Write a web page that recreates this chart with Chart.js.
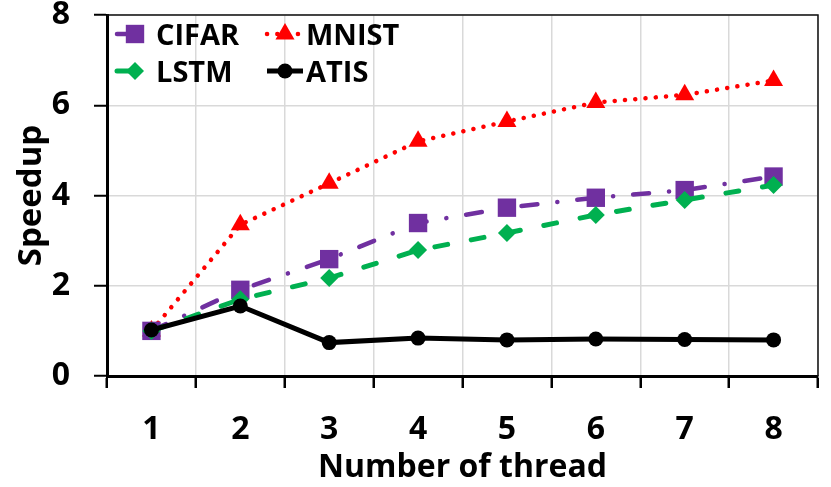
<!DOCTYPE html>
<html lang="en">
  <head>
    <meta charset="UTF-8" />
    <title>Speedup vs threads</title>
    <script src="https://cdn.jsdelivr.net/npm/chart.js"></script>
    <style>
      body {
        margin: 0;
        background: #fff;
      }
    </style>
  </head>
  <body>
    <canvas id="speedupChart" width="831" height="487"></canvas>

    <script>
      const threads = ["1", "2", "3", "4", "5", "6", "7", "8"];
      const cifar = [1.0, 1.91, 2.59, 3.39, 3.73, 3.95, 4.12, 4.42];
      const mnist = [1.0, 3.35, 4.27, 5.2, 5.64, 6.06, 6.23, 6.55];
      const lstm = [1.0, 1.7, 2.17, 2.79, 3.17, 3.57, 3.9, 4.23];
      const atis = [1.02, 1.55, 0.74, 0.84, 0.8, 0.82, 0.81, 0.8];
      const yTicks = [0, 2, 4, 6, 8];

      const FONT = "'Open Sans', 'Liberation Sans', sans-serif";

      // legend drawn inside the plot, two columns like the original
      const legendItems = [
        { name: "CIFAR", ds: 0, col: 0, row: 0 },
        { name: "MNIST", ds: 1, col: 1, row: 0 },
        { name: "LSTM", ds: 2, col: 0, row: 1 },
        { name: "ATIS", ds: 3, col: 1, row: 1 },
      ];

      function marker(ctx, style, r, x, y, color) {
        ctx.save();
        ctx.fillStyle = color;
        ctx.beginPath();
        if (style === "rect") {
          const s = Math.SQRT1_2 * r;
          ctx.rect(x - s, y - s, 2 * s, 2 * s);
        } else if (style === "triangle") {
          for (let i = 0; i < 3; i++) {
            const a = (i * 2 * Math.PI) / 3;
            ctx.lineTo(x + Math.sin(a) * r, y - Math.cos(a) * r);
          }
          ctx.closePath();
        } else if (style === "rectRot") {
          ctx.moveTo(x - r, y);
          ctx.lineTo(x, y - r);
          ctx.lineTo(x + r, y);
          ctx.lineTo(x, y + r);
          ctx.closePath();
        } else {
          ctx.arc(x, y, r, 0, Math.PI * 2);
        }
        ctx.fill();
        ctx.restore();
      }

      const insideLegend = {
        id: "insideLegend",
        afterDraw(chart) {
          const ctx = chart.ctx;
          const colX = [135, 285];
          const rowY = [34, 71];
          legendItems.forEach((it) => {
            const d = chart.data.datasets[it.ds];
            const cx = colX[it.col];
            const cy = rowY[it.row];
            ctx.save();
            ctx.strokeStyle = d.borderColor;
            ctx.lineWidth = d.borderWidth;
            ctx.lineCap = d.borderCapStyle || "butt";
            ctx.setLineDash(d.borderDash || []);
            ctx.beginPath();
            ctx.moveTo(cx - 18, cy);
            ctx.lineTo(cx + 18, cy);
            ctx.stroke();
            ctx.restore();
            marker(ctx, d.pointStyle, d.pointRadius, cx, cy, d.borderColor);
            ctx.save();
            ctx.fillStyle = "#000";
            ctx.font = "bold 29px " + FONT;
            ctx.textBaseline = "middle";
            ctx.fillText(it.name, cx + 21, cy + 3);
            ctx.restore();
          });
        },
      };

      // dark frame on the top and right of the plot area
      const plotFrame = {
        id: "plotFrame",
        beforeDatasetsDraw(chart) {
          const { ctx, chartArea: a } = chart;
          ctx.save();
          ctx.strokeStyle = "#111";
          ctx.lineWidth = 1.5;
          ctx.beginPath();
          ctx.moveTo(a.left, a.top);
          ctx.lineTo(a.right, a.top);
          ctx.lineTo(a.right, a.bottom);
          ctx.stroke();
          ctx.restore();
        },
      };

      const ctx = document.getElementById("speedupChart").getContext("2d");

      new Chart(ctx, {
        type: "line",
        data: {
          labels: threads,
          datasets: [
            {
              label: "CIFAR",
              data: cifar,
              borderColor: "#7030A0",
              backgroundColor: "#7030A0",
              borderWidth: 4.5,
              borderDash: [16, 20, 0.1, 20],
              borderCapStyle: "round",
              pointStyle: "rect",
              pointRadius: 13,
              pointBorderWidth: 0,
              order: 2,
            },
            {
              label: "MNIST",
              data: mnist,
              borderColor: "#FF0000",
              backgroundColor: "#FF0000",
              borderWidth: 4.5,
              borderDash: [0.1, 10.2],
              borderCapStyle: "round",
              pointStyle: "triangle",
              pointRadius: 11,
              pointBorderWidth: 0,
              order: 3,
            },
            {
              label: "LSTM",
              data: lstm,
              borderColor: "#00B050",
              backgroundColor: "#00B050",
              borderWidth: 5,
              borderDash: [13, 24],
              borderCapStyle: "round",
              pointStyle: "rectRot",
              pointRadius: 9,
              pointBorderWidth: 0,
              order: 1,
            },
            {
              label: "ATIS",
              data: atis,
              borderColor: "#000000",
              backgroundColor: "#000000",
              borderWidth: 5,
              pointStyle: "circle",
              pointRadius: 7.5,
              pointBorderWidth: 0,
              order: 0,
            },
          ],
        },
        options: {
          responsive: false,
          animation: false,
          layout: { padding: { top: 15, right: 8, left: 0, bottom: 0 } },
          elements: { line: { tension: 0 } },
          plugins: {
            legend: { display: false },
            tooltip: { enabled: false },
          },
          scales: {
            x: {
              offset: true,
              grid: {
                offset: true,
                color: "#d9d9d9",
                lineWidth: 1.5,
                tickColor: "#000",
                tickWidth: 2.5,
                tickLength: 12,
              },
              border: { color: "#000", width: 3 },
              ticks: {
                color: "#000",
                padding: 23,
                maxRotation: 0,
                font: { family: FONT, size: 32, weight: "bold" },
              },
              title: {
                display: true,
                text: "Number of thread",
                color: "#000",
                padding: { top: 0, bottom: 0 },
                font: { family: FONT, size: 32, weight: "bold" },
              },
              afterFit(s) {
                s.height = 111;
                s.paddingLeft = 0;
                s.paddingRight = 0;
              },
            },
            y: {
              min: 0,
              max: 8,
              afterBuildTicks(s) {
                s.ticks = yTicks.map((v) => ({ value: v }));
              },
              grid: {
                color: "#d9d9d9",
                lineWidth: 1.5,
                tickColor: "#000",
                tickWidth: 2,
                tickLength: 13,
              },
              border: { color: "#000", width: 3 },
              ticks: {
                color: "#000",
                padding: 24,
                font: { family: FONT, size: 32, weight: "bold" },
              },
              title: {
                display: true,
                text: "Speedup",
                color: "#000",
                padding: { top: 12, bottom: 0 },
                font: { family: FONT, size: 33, weight: "bold" },
              },
              afterFit(s) {
                s.width = 107;
                s.paddingTop = 0;
                s.paddingBottom = 0;
              },
            },
          },
        },
        plugins: [plotFrame, insideLegend],
      });
    </script>
  </body>
</html>
